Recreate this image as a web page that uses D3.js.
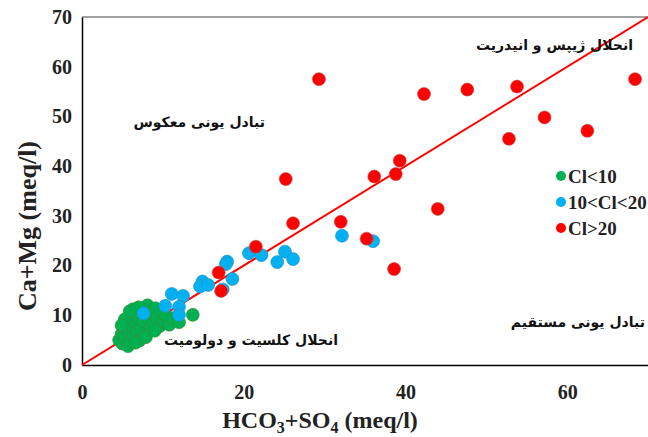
<!DOCTYPE html>
<html lang="en">
<head>
<meta charset="UTF-8">
<title>Ca+Mg vs HCO3+SO4</title>
<script src="https://cdn.jsdelivr.net/npm/d3@7/dist/d3.min.js"></script>
<style>
  html, body { margin: 0; background: #fff; }
  svg text { font-family: "Liberation Serif", "Times New Roman", serif; font-weight: bold; fill: #222; }
  .fa { font-family: "DejaVu Sans", "Noto Sans", sans-serif; font-weight: bold; font-size: 14px; fill: #111; }
</style>
</head>
<body>
<script>
  const width = 648
  const height = 437

  // data: [HCO3+SO4, Ca+Mg]
  const clLow = [
    [4.6, 5.0], [4.9, 6.2], [5.0, 4.3], [5.2, 7.0], [5.4, 5.5], [5.5, 8.2], [5.7, 3.8], [5.8, 6.5],
    [6.0, 4.8], [6.1, 9.0], [6.2, 7.5], [6.4, 5.8], [6.5, 10.5], [6.7, 8.3], [6.8, 6.8], [7.0, 9.6],
    [7.1, 4.9], [7.3, 7.2], [7.5, 11.0], [7.6, 8.8], [7.8, 6.2], [8.0, 10.2], [8.1, 12.0], [8.3, 9.1],
    [8.5, 7.6], [8.7, 10.8], [8.9, 8.4], [9.1, 11.4], [9.3, 9.6], [9.6, 7.8], [9.8, 10.6], [10.1, 8.9],
    [10.4, 9.9], [10.8, 8.1], [11.2, 9.4], [12.0, 8.6], [13.7, 10.1], [5.3, 9.2], [4.9, 8.0], [6.3, 11.2],
    [7.0, 11.6], [5.9, 10.8], [6.6, 4.5], [7.9, 5.6], [9.0, 6.9]
  ]
  const clMid = [
    [32.15, 26.0], [36.0, 24.9], [20.65, 22.5], [22.2, 22.1], [25.1, 22.8], [24.15, 20.7], [26.1, 21.3],
    [17.95, 20.8], [17.8, 20.3], [18.6, 17.3], [14.9, 16.8], [14.6, 15.8], [15.6, 16.1], [17.4, 15.2],
    [11.1, 14.3], [12.5, 13.9], [10.3, 11.9], [12.0, 11.7], [12.0, 10.1], [7.6, 10.4]
  ]
  const clHigh = [
    [29.3, 57.5], [42.3, 54.5], [47.65, 55.4], [53.8, 56.0], [68.4, 57.5], [57.2, 49.8], [52.8, 45.5],
    [62.5, 47.1], [39.3, 41.1], [38.8, 38.4], [36.15, 37.9], [25.2, 37.4], [44.0, 31.4], [26.1, 28.5],
    [32.0, 28.8], [35.2, 25.4], [38.6, 19.3], [21.5, 23.8], [16.9, 18.6], [17.2, 14.9]
  ]

  const series = [
    { name: 'Cl<10', data: clLow, fill: '#00b050', stroke: '#3a8a3a' },
    { name: '10<Cl<20', data: clMid, fill: '#00b0f0', stroke: '#2e8fc0' },
    { name: 'Cl>20', data: clHigh, fill: '#ff0000', stroke: '#c0504d' }
  ]

  const xTicks = [0, 20, 40, 60]
  const yTicks = [0, 10, 20, 30, 40, 50, 60, 70]

  const notes = [
    { text: 'انحلال ژیپس و انیدریت', x: 633, y: 50 },
    { text: 'تبادل یونی معکوس', x: 265, y: 127 },
    { text: 'انحلال کلسیت و دولومیت', x: 338, y: 345 },
    { text: 'تبادل یونی  مستقیم', x: 645, y: 327 }
  ]

  const margin = { left: 82, right: 0, top: 17, bottom: 72 }

  const svg = d3.select('body').append('svg')
    .attr('width', width)
    .attr('height', height)

  const x = d3.scaleLinear().domain([0, 70]).range([margin.left, width - margin.right])
  const y = d3.scaleLinear().domain([0, 70]).range([height - margin.bottom, margin.top])

  // 上边框
  svg.append('line')
    .attr('x1', x(0)).attr('y1', y(70))
    .attr('x2', x(70)).attr('y2', y(70))
    .attr('stroke', '#444').attr('stroke-width', 1)

  // x轴
  const gx = svg.append('g').attr('transform', `translate(0, ${y(0)})`)
  gx.call(d3.axisBottom(x).tickValues(d3.range(0, 71, 5)).tickSize(-5).tickFormat(''))
  gx.call(d3.axisBottom(x).tickValues(xTicks).tickSize(0).tickPadding(20).tickFormat(d => d))
  gx.selectAll('text').attr('font-size', 20)

  // y轴
  const gy = svg.append('g').attr('transform', `translate(${x(0)}, 0)`)
  gy.call(d3.axisLeft(y).tickValues(d3.range(0, 71, 5)).tickSize(-5).tickFormat(''))
  gy.call(d3.axisLeft(y).tickValues(yTicks).tickSize(0).tickPadding(10).tickFormat(d => d))
  gy.selectAll('text').attr('font-size', 20)

  svg.selectAll('.domain').attr('stroke', '#000').attr('stroke-width', 1.5)
  svg.selectAll('.tick line').attr('stroke', '#000')

  // 1:1 线
  svg.append('line')
    .attr('x1', x(0)).attr('y1', y(0))
    .attr('x2', x(70)).attr('y2', y(70))
    .attr('stroke', '#ff0000').attr('stroke-width', 2)

  // 散点
  series.forEach(s => {
    svg.append('g').selectAll('circle')
      .data(s.data)
      .enter()
      .append('circle')
      .attr('cx', d => x(d[0]))
      .attr('cy', d => y(d[1]))
      .attr('r', 6.5)
      .attr('fill', s.fill)
      .attr('stroke', s.stroke)
      .attr('stroke-width', 0.6)
  })

  // 图例
  const legend = svg.append('g')
  series.forEach((s, i) => {
    const ly = 176 + i * 26
    legend.append('circle').attr('cx', 561).attr('cy', ly).attr('r', 5).attr('fill', s.fill)
    legend.append('text').attr('x', 568).attr('y', ly + 7).attr('font-size', 19).text(s.name)
  })

  // 区域文字
  svg.selectAll('.fa')
    .data(notes)
    .enter()
    .append('text')
    .attr('class', 'fa')
    .attr('direction', 'rtl')
    .attr('text-anchor', 'start')
    .attr('x', d => d.x)
    .attr('y', d => d.y)
    .text(d => d.text)

  // 轴标题
  const xt = svg.append('text')
    .attr('x', 320).attr('y', 428)
    .attr('text-anchor', 'middle')
    .attr('font-size', 24)
  xt.append('tspan').text('HCO')
  xt.append('tspan').attr('font-size', 16).attr('dy', 5).text('3')
  xt.append('tspan').attr('dy', -5).text('+SO')
  xt.append('tspan').attr('font-size', 16).attr('dy', 5).text('4')
  xt.append('tspan').attr('dy', -5).text(' (meq/l)')

  svg.append('text')
    .attr('transform', `translate(36, 226) rotate(-90)`)
    .attr('text-anchor', 'middle')
    .attr('font-size', 26)
    .text('Ca+Mg (meq/l)')
</script>
</body>
</html>
